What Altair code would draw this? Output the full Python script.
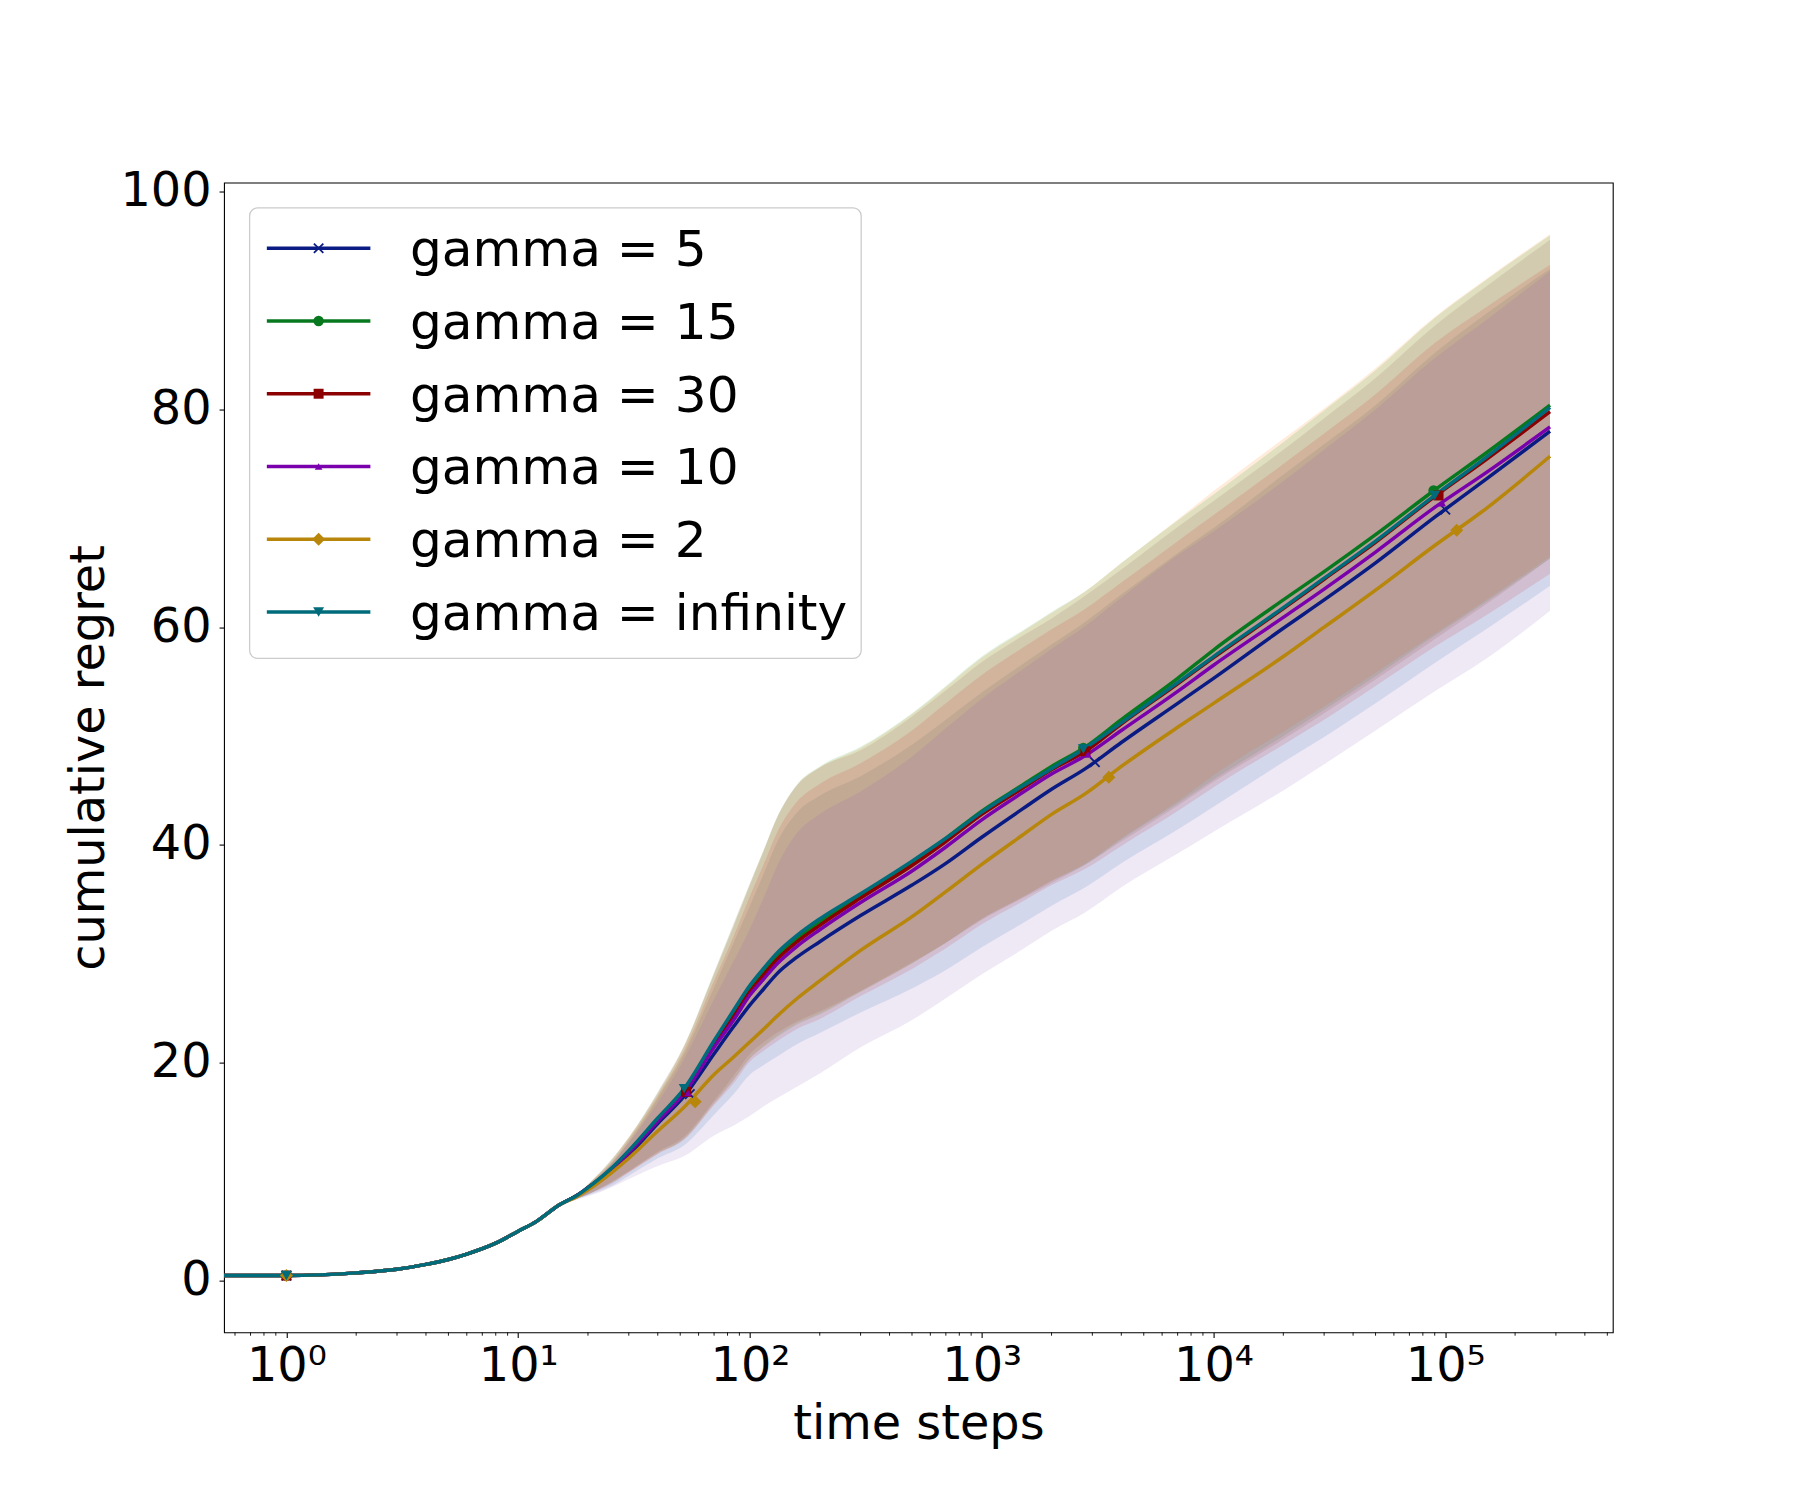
import altair as alt
import pandas as pd

FONT = "DejaVu Sans"

SERIES = ["gamma = 5", "gamma = 15", "gamma = 30", "gamma = 10", "gamma = 2", "gamma = infinity"]
LINE_COLORS = ["#0a1c84", "#08781f", "#8b0000", "#7a00ad", "#b8860b", "#006b7a"]
BAND_COLORS = ["#1f77b4", "#ff7f0e", "#2ca02c", "#d62728", "#9467bd", "#8c564b"]
SHAPES = ["M-1,-1L1,1M-1,1L1,-1", "circle", "square", "triangle-up", "diamond", "triangle-down"]
FILLED = [False, True, True, True, True, True]
SIZES = [90, 110, 100, 60, 170, 120]

# time steps of the mean curves
T = [0.5, 1, 2, 3, 4, 5, 6, 8, 10, 12, 15, 18, 20, 25, 30, 40, 52, 70, 85, 100, 115, 130,
     160, 200, 300, 500, 700, 1000, 1500, 2000, 2800, 4000, 7000, 10000, 20000, 30000,
     50000, 90000, 150000, 283000]

MEAN_G5 = [0.42, 0.42, 0.67, 1.0, 1.45, 1.9, 2.4, 3.4, 4.5, 5.4, 6.9, 7.8, 8.4, 9.9, 11.5,
           14.4, 16.9, 20.8, 23.3, 25.3, 26.8, 28.1, 29.7, 31.1, 33.5, 36.3, 38.3, 40.7,
           43.3, 45.1, 47.0, 49.4, 53.0, 55.3, 59.9, 62.5, 65.9, 70.1, 73.6, 78.0]
MEAN_G15 = [0.42, 0.42, 0.67, 1.0, 1.45, 1.9, 2.4, 3.4, 4.5, 5.4, 6.9, 7.8, 8.5, 10.1, 11.8,
            14.7, 17.4, 21.7, 24.4, 26.7, 28.3, 29.7, 31.4, 32.9, 35.4, 38.4, 40.6, 43.1,
            45.5, 47.2, 49.0, 51.5, 55.3, 57.9, 62.5, 65.1, 68.5, 72.6, 76.0, 80.4]
MEAN_G30 = [0.42, 0.42, 0.67, 1.0, 1.45, 1.9, 2.4, 3.4, 4.5, 5.4, 6.9, 7.8, 8.5, 10.1, 11.8,
            14.7, 17.3, 21.6, 24.2, 26.5, 28.1, 29.4, 31.1, 32.6, 35.1, 38.1, 40.3, 42.8,
            45.2, 46.9, 48.6, 51.1, 54.8, 57.2, 61.7, 64.4, 67.8, 72.0, 75.4, 79.8]
MEAN_G10 = [0.42, 0.42, 0.67, 1.0, 1.45, 1.9, 2.4, 3.4, 4.5, 5.4, 6.9, 7.8, 8.5, 10.0, 11.7,
            14.6, 17.2, 21.4, 23.9, 26.2, 27.7, 29.0, 30.7, 32.2, 34.7, 37.6, 39.8, 42.3,
            44.8, 46.5, 48.2, 50.5, 54.1, 56.5, 60.9, 63.5, 66.9, 71.0, 74.2, 78.4]
MEAN_G2 = [0.42, 0.42, 0.67, 1.0, 1.45, 1.9, 2.4, 3.4, 4.5, 5.4, 6.9, 7.7, 8.3, 9.8, 11.2,
           13.7, 15.9, 18.9, 20.5, 21.9, 23.1, 24.2, 25.9, 27.5, 30.3, 33.4, 35.7, 38.2,
           40.9, 42.8, 44.7, 47.2, 50.8, 53.0, 57.3, 60.0, 63.4, 67.5, 70.9, 75.7]
MEAN_GINF = [0.42, 0.42, 0.67, 1.0, 1.45, 1.9, 2.4, 3.4, 4.5, 5.4, 6.9, 7.8, 8.5, 10.2, 11.9,
             14.9, 17.6, 22.0, 24.8, 27.1, 28.7, 30.0, 31.7, 33.2, 35.5, 38.5, 40.6, 43.0,
             45.4, 47.0, 48.9, 51.2, 54.9, 57.3, 61.8, 64.5, 67.9, 72.1, 75.6, 80.2]
MEANS = [MEAN_G5, MEAN_G15, MEAN_G30, MEAN_G10, MEAN_G2, MEAN_GINF]

# time steps of the spread bands
BT = [15, 18, 20, 25, 30, 40, 52, 70, 85, 100, 115, 130, 160, 200, 300, 500, 700, 1000,
      1500, 2000, 2800, 4000, 7000, 10000, 20000, 30000, 50000, 90000, 150000, 283000]
HI_G5 = [6.9, 7.9, 8.7, 10.6, 12.7, 16.7, 20.8, 26.9, 31.0, 34.4, 37.4, 40.1, 43.0, 44.5, 46.3,
         49.2, 51.5, 54.0, 56.6, 58.4, 60.5, 63.0, 66.8, 69.1, 74.0, 76.8, 80.4, 85.2, 88.8, 92.9]
LO_G5 = [6.9, 7.5, 7.8, 8.6, 9.6, 11.2, 12.4, 15.2, 17.1, 18.9, 19.8, 20.5, 21.7, 22.7, 24.6,
         26.8, 28.5, 30.6, 32.8, 34.4, 36.1, 38.3, 41.4, 43.5, 47.6, 49.9, 53.0, 56.7, 59.8, 63.8]
HI_G15 = [6.9, 7.9, 8.8, 10.9, 13.1, 17.1, 21.5, 28.1, 32.5, 36.3, 39.5, 42.3, 45.5, 47.1, 48.9,
          52.0, 54.5, 57.2, 59.6, 61.3, 63.3, 65.9, 69.9, 72.5, 77.3, 80.1, 83.8, 88.5, 92.0, 96.1]
LO_G15 = [6.9, 7.5, 7.9, 8.9, 9.9, 11.6, 13.0, 16.2, 18.4, 20.4, 21.5, 22.4, 23.6, 24.5, 26.5,
          29.1, 31.0, 33.2, 35.2, 36.7, 38.3, 40.6, 44.0, 46.4, 50.4, 52.7, 55.8, 59.4, 62.5, 66.5]
HI_G30 = [6.9, 7.9, 8.8, 10.9, 13.1, 17.2, 21.5, 28.2, 32.6, 36.4, 39.6, 42.4, 45.6, 47.2, 49.0,
          52.1, 54.6, 57.3, 59.7, 61.4, 63.3, 65.9, 69.8, 72.2, 77.0, 79.9, 83.6, 88.4, 91.9, 96.0]
LO_G30 = [6.9, 7.5, 7.9, 8.9, 10.0, 11.7, 13.0, 16.3, 18.4, 20.4, 21.5, 22.3, 23.5, 24.4, 26.5,
          29.1, 31.0, 33.2, 35.2, 36.7, 38.2, 40.5, 43.8, 46.0, 50.0, 52.4, 55.5, 59.2, 62.3, 66.3]
HI_G10 = [6.9, 7.9, 8.8, 10.7, 12.9, 16.9, 21.1, 27.5, 31.6, 35.3, 38.3, 41.0, 44.0, 45.6, 47.5,
          50.5, 53.0, 55.6, 58.1, 59.8, 61.7, 64.1, 67.9, 70.3, 75.0, 77.8, 81.4, 86.1, 89.4, 93.3]
LO_G10 = [6.9, 7.5, 7.9, 8.8, 9.9, 11.6, 12.9, 16.1, 18.1, 20.1, 21.1, 21.9, 23.1, 24.0, 26.1,
          28.6, 30.5, 32.7, 34.8, 36.3, 37.8, 39.9, 43.1, 45.3, 49.2, 51.5, 54.6, 58.2, 61.1, 64.9]
HI_G2 = [6.9, 7.8, 8.6, 10.6, 12.6, 16.3, 20.3, 25.8, 29.3, 32.3, 35.2, 37.9, 41.1, 42.8, 44.9,
         48.1, 50.7, 53.4, 56.1, 58.0, 60.1, 62.7, 66.6, 68.8, 73.4, 76.3, 80.0, 84.7, 88.2, 92.7]
LO_G2 = [6.9, 7.4, 7.7, 8.5, 9.3, 10.5, 11.4, 13.3, 14.2, 15.1, 16.0, 16.7, 17.8, 19.0, 21.4,
         23.9, 25.9, 28.1, 30.4, 32.1, 33.8, 36.1, 39.2, 41.2, 45.0, 47.4, 50.5, 54.1, 57.1, 61.5]
HI_GINF = [6.9, 7.9, 8.8, 11.0, 13.1, 17.3, 21.6, 28.3, 32.8, 36.5, 39.6, 42.4, 45.5, 47.1, 48.7,
           51.8, 54.2, 56.8, 59.2, 60.8, 62.9, 65.3, 69.2, 71.6, 76.3, 79.2, 82.9, 87.7, 91.3, 95.6]
LO_GINF = [6.9, 7.5, 7.9, 9.0, 10.0, 11.8, 13.2, 16.5, 18.8, 20.8, 21.9, 22.7, 23.8, 24.7, 26.6,
           29.2, 31.0, 33.1, 35.1, 36.5, 38.2, 40.3, 43.6, 45.8, 49.7, 52.1, 55.2, 58.9, 62.1, 66.3]
HIS = [HI_G5, HI_G15, HI_G30, HI_G10, HI_G2, HI_GINF]
LOS = [LO_G5, LO_G15, LO_G30, LO_G10, LO_G2, LO_GINF]

# marker positions (markevery)
MARK_T = [[1, 55, 3077, 100000], [1, 53, 2742, 89000], [1, 53, 2800, 93500],
          [1, 54, 2870, 97000], [1, 58, 3535, 112000], [1, 52, 2742, 90000]]
MARK_V = [[0.42, 17.1, 47.6, 70.8], [0.42, 17.4, 48.9, 72.55], [0.42, 17.3, 48.6, 72.1],
          [0.42, 17.2, 48.3, 71.4], [0.42, 16.4, 46.2, 68.9], [0.42, 17.6, 48.8, 72.1]]

XTICK_VALUES = [1, 10, 100, 1000, 10000, 100000]
XTICK_LABELS = ["10⁰", "10¹", "10²", "10³", "10⁴", "10⁵"]
YTICK_VALUES = [0, 20, 40, 60, 80, 100]
MINOR_TICKS = [k * 10.0 ** d for d in range(-1, 6) for k in range(2, 10)
               if 0.538 <= k * 10.0 ** d <= 528000]

W, H = 1395, 1155
XDOM = [0.538, 528000]
YDOM = [-4.8, 100.85]

lines_df = pd.DataFrame([{"series": s, "t": t, "v": v}
                         for s, m in zip(SERIES, MEANS) for t, v in zip(T, m)])
bands_df = pd.DataFrame([{"series": s, "t": t, "lo": lo, "hi": hi}
                         for s, los, his in zip(SERIES, LOS, HIS)
                         for t, lo, hi in zip(BT, los, his)])
marks_df = pd.DataFrame([{"series": s, "t": t, "v": v}
                         for s, ts, vs in zip(SERIES, MARK_T, MARK_V)
                         for t, v in zip(ts, vs)])
minor_df = pd.DataFrame({"t": MINOR_TICKS})

label_expr = "[" + ",".join(f"'{l}'" for l in XTICK_LABELS) + "][round(log(datum.value)/LN10)]"

xscale = alt.Scale(type="log", domain=XDOM, nice=False)
yscale = alt.Scale(domain=YDOM, nice=False, zero=False)
xaxis = alt.Axis(values=XTICK_VALUES, labelExpr=label_expr, tickSize=5, labelFontSize=48,
                 labelPadding=43, labelBaseline="alphabetic", labelFlush=False,
                 labelOverlap=False, titleFontSize=48, titleX=W / 2, titleY=107,
                 titleBaseline="alphabetic", titleAlign="center")
yaxis = alt.Axis(values=YTICK_VALUES, tickSize=5, labelFontSize=48, labelPadding=8,
                 labelFlush=False, labelOverlap=False, titleFontSize=48,
                 titleX=-135, titleY=H / 2, titleAngle=270, titleAlign="center",
                 titleBaseline="middle")

X = alt.X("t:Q", scale=xscale, axis=xaxis, title="time steps")


def Yf(field):
    return alt.Y(field, scale=yscale, axis=yaxis, title="cumulative regret")


def marker(i):
    if FILLED[i]:
        return dict(shape=SHAPES[i], filled=True, color=LINE_COLORS[i], size=SIZES[i],
                    opacity=1, strokeWidth=0)
    return dict(shape=SHAPES[i], filled=False, color=LINE_COLORS[i], size=SIZES[i],
                opacity=1, strokeWidth=1.8)


layers = []
for i, s in enumerate(SERIES):
    layers.append(
        alt.Chart(bands_df).transform_filter(alt.datum.series == s)
        .mark_area(color=BAND_COLORS[i], fillOpacity=0.15, clip=True, interpolate="monotone")
        .encode(x=X, y=Yf("lo:Q"), y2="hi:Q")
    )
for i, s in enumerate(SERIES):
    layers.append(
        alt.Chart(lines_df).transform_filter(alt.datum.series == s)
        .mark_line(color=LINE_COLORS[i], strokeWidth=3.5, interpolate="monotone", clip=True)
        .encode(x=X, y=Yf("v:Q"))
    )
for i, s in enumerate(SERIES):
    layers.append(
        alt.Chart(marks_df).transform_filter(alt.datum.series == s)
        .mark_point(**marker(i))
        .encode(x=X, y=Yf("v:Q"))
    )

# minor ticks of the log axis
layers.append(
    alt.Chart(minor_df).mark_rule(color="black", strokeWidth=0.9)
    .encode(x=X, y=alt.value(H), y2=alt.value(H + 3.3))
)

# legend
one = pd.DataFrame({"k": [0]})
layers.append(
    alt.Chart(one).mark_rect(fill="white", fillOpacity=0.8, stroke="#cccccc",
                             strokeWidth=1.3, cornerRadius=8)
    .encode(x=alt.value(25.7), x2=alt.value(640), y=alt.value(25.5), y2=alt.value(478))
)
ROW0, ROWSTEP = 66.0, 73.06
for i, s in enumerate(SERIES):
    ry = ROW0 + i * ROWSTEP
    layers.append(
        alt.Chart(one).mark_rule(color=LINE_COLORS[i], strokeWidth=3.5)
        .encode(x=alt.value(43), x2=alt.value(147), y=alt.value(ry))
    )
    layers.append(
        alt.Chart(one).mark_point(**marker(i)).encode(x=alt.value(95), y=alt.value(ry))
    )
    layers.append(
        alt.Chart(one).mark_text(text=s, font=FONT, fontSize=50.4, align="left",
                                 baseline="alphabetic", color="black")
        .encode(x=alt.value(186.7), y=alt.value(ry + 18))
    )

chart = (
    alt.layer(*layers)
    .properties(width=W, height=H, autosize=alt.AutoSizeParams(type="none"),
                padding={"left": 217, "top": 172, "right": 180, "bottom": 165},
                background="white")
    .configure_view(stroke="black", strokeWidth=1.1)
    .configure_axis(domain=False, grid=False, tickColor="black", tickWidth=1.1,
                    labelColor="black", titleColor="black", labelFont=FONT,
                    titleFont=FONT, titleFontWeight="normal")
)

chart.save("out.html", embed_options={"renderer": "svg", "actions": False})
